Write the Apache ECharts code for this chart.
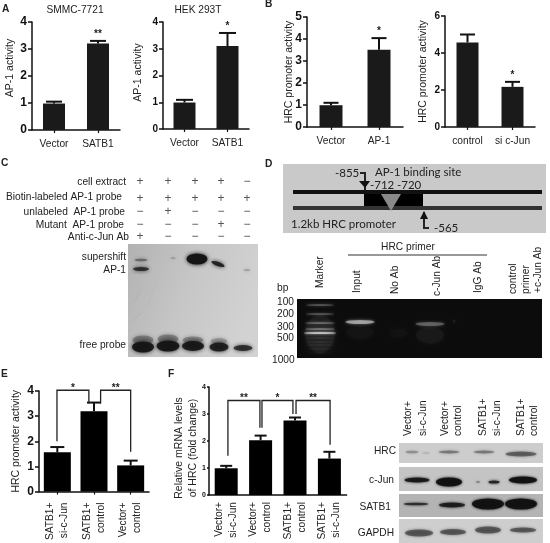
<!DOCTYPE html>
<html>
<head>
<meta charset="utf-8">
<style>html,body{margin:0;padding:0;background:#fff}#main{width:550px;height:543px}#main canvas{filter:blur(0.45px)}</style>
<script src="https://cdn.jsdelivr.net/npm/echarts@6/dist/echarts.min.js"></script>
</head>
<body>
<div id="main"></div>
<script>
// bar panels: [category, mean, top of error bar]
const a1Cats = ['Vector', 'SATB1'];
const a1Vals = [0.98, 3.2];
const a1Errs = [1.05, 3.3];
const a1Stars = ['', '**'];

const a2Cats = ['Vector', 'SATB1'];
const a2Vals = [0.99, 3.1];
const a2Errs = [1.09, 3.59];
const a2Stars = ['', '*'];

const b1Cats = ['Vector', 'AP-1'];
const b1Vals = [0.99, 3.51];
const b1Errs = [1.1, 4.04];
const b1Stars = ['', '*'];

const b2Cats = ['control', 'si c-Jun'];
const b2Vals = [4.57, 2.17];
const b2Errs = [5.0, 2.44];
const b2Stars = ['', '*'];

const eCats = ['SATB1+\nsi-c-Jun', 'SATB1+\ncontrol', 'Vector+\ncontrol'];
const eVals = [1.56, 3.19, 1.04];
const eErrs = [1.77, 3.54, 1.23];
// from x, from y, to x, to y, top y, stars
const eBrackets = [
  [0.49, 2.0, 1.36, 3.5, 4.03, '*'],
  [1.68, 3.5, 2.5, 1.58, 4.03, '**']
];

const fCats = ['Vector+\nsi-c-Jun', 'Vector+\ncontrol', 'SATB1+\ncontrol', 'SATB1+\nsi-c-Jun'];
const fVals = [0.99, 2.03, 2.76, 1.35];
const fErrs = [1.08, 2.2, 2.87, 1.6];
const fBrackets = [
  [0.55, 1.45, 1.48, 2.49, 3.5, '**'],
  [1.54, 2.49, 2.44, 3.0, 3.5, '*'],
  [2.53, 3.0, 3.52, 1.86, 3.5, '**']
];

// gel bands: x, y, length, thickness, strength, rotation (gel scan units)
const emsaBands = [
  [13, 16, 13, 2.5, 0.4, 0], [13, 25, 16, 4, 0.75, 0], [45, 14, 5, 1, 0.35, 0],
  [69, 15, 21, 11, 1, 0], [90, 20, 14, 4, 0.85, -20], [119, 26, 7, 1, 0.4, 0],
  [15, 96, 21, 9, 0.3, 0], [40, 95, 21, 9, 0.3, 0], [65, 96, 21, 7, 0.28, 0], [91, 97, 17, 6, 0.2, 0],
  [15, 103, 22, 11, 0.95, 0], [40, 102, 23, 11, 0.95, 0], [65, 102, 22, 10, 0.9, 0],
  [91, 103, 19, 9, 0.85, 0], [115, 104, 19, 6, 0.75, 0],
  [9, 52, 22, 0.6, 0.06, 60], [24, 50, 30, 0.6, 0.06, 70], [10, 72, 18, 0.6, 0.06, 40]
];
const chipBands = [
  [23, 35, 30, 38, 0.04, 0], [23, 6, 28, 1.5, 0.3, 0], [23, 15, 28, 1.5, 0.3, 0], [23, 24, 30, 1.5, 0.35, 0],
  [23, 30, 30, 1.5, 0.4, 0], [23, 34, 32, 2, 0.7, 0], [23, 39, 30, 0.8, 0.15, 0], [23, 43, 30, 0.8, 0.12, 0],
  [23, 46, 30, 0.8, 0.1, 0], [23, 50, 30, 0.8, 0.08, 0], [23, 54, 30, 0.8, 0.06, 0],
  [63, 33, 28, 14, 0.02, 0], [63, 23, 29, 4, 0.5, 0], [133, 36, 28, 18, 0.03, 0], [133, 25, 29, 4, 0.25, 0],
  [157, 22, 3, 1, 0.15, 0], [102, 34, 18, 9, 0.015, 0]
];
const hrcBands = [[13, 9, 13, 2.5, 0.25, 0], [27, 10, 8, 1.5, 0.12, 0], [50, 9, 21, 3, 0.35, 0], [85, 9, 21, 3, 0.35, 0], [122, 11, 31, 5, 0.45, 0]];
const junBands = [[18, 13, 25, 5, 0.85, 0], [50, 15, 26, 9, 0.95, 0], [79, 15, 4, 1.5, 0.4, 0], [95, 15, 11, 3, 0.8, 0], [124, 13, 28, 7, 0.95, 0]];
const satbBands = [[17, 10, 25, 2.5, 0.7, 0], [53, 11, 26, 5, 0.8, 0], [89, 10, 32, 11, 0.95, 0], [122, 10, 32, 11, 0.95, 0]];
const gapdhBands = [[20, 14, 28, 7, 0.6, 0], [54, 13, 26, 6, 0.6, 0], [89, 11, 26, 7, 0.6, 0], [124, 11, 26, 5, 0.6, 0]];

const emsaSigns = [
  ['+', '+', '+', '+', '−'],
  ['+', '+', '+', '+', '+'],
  ['−', '+', '−', '−', '−'],
  ['−', '−', '−', '+', '−'],
  ['+', '−', '−', '−', '−']
];
const emsaRows = ['cell extract', 'Biotin-labeled AP-1 probe', 'unlabeled  AP-1 probe', 'Mutant  AP-1 probe', 'Anti-c-Jun Ab'];
const signX = [140, 168, 195, 221, 247];
const signY = [182, 199, 212, 225, 237];
const rowRight = [126, 122, 125, 124, 129];

const FONT = '"Liberation Sans", Arial, sans-serif';
const DIAGRAM_FONT = 'Lato, sans-serif';
const TEXT_SIZE = 10.2;

const grids = [], xAxes = [], yAxes = [], series = [];

function addBarPanel(p) {
  const gi = grids.length;
  grids.push({ left: p.left, top: p.top, width: p.width, height: p.height, containLabel: false });
  const xi = xAxes.length;
  xAxes.push({
    gridIndex: gi, type: 'category', data: p.cats,
    axisLine: { lineStyle: { color: '#111', width: p.lineW || 1.5 } },
    axisTick: { show: p.xTick !== false, alignWithLabel: true, length: 3, lineStyle: { color: '#111', width: 1.2 } },
    axisLabel: {
      interval: 0, fontFamily: FONT, fontSize: TEXT_SIZE, color: '#222', margin: p.labelMargin || 7,
      rotate: p.rotate || 0, lineHeight: 14
    }
  });
  const yi = yAxes.length;
  yAxes.push({
    gridIndex: gi, type: 'value', min: 0, max: p.max, interval: p.interval,
    name: p.name, nameLocation: 'middle', nameGap: p.nameGap, nameRotate: 90, nameMoveOverlap: false,
    nameTextStyle: { fontFamily: FONT, fontSize: 10.5, color: '#222', lineHeight: 14, padding: p.namePadding || 0 },
    splitLine: { show: false },
    axisLine: { show: true, onZero: false, lineStyle: { color: '#111', width: p.lineW || 1.5 } },
    axisTick: { show: true, length: p.yTickLen || 4, lineStyle: { color: '#111', width: 1.5 } },
    axisLabel: { fontFamily: FONT, fontSize: p.tickSize, fontWeight: 'bold', color: '#111', margin: p.yMargin || 5 }
  });
  series.push({
    type: 'bar', xAxisIndex: xi, yAxisIndex: yi, data: p.vals, barWidth: p.barWidth,
    itemStyle: { color: p.color || '#1a1a1a' }, silent: true
  });
  series.push({
    type: 'custom', xAxisIndex: xi, yAxisIndex: yi,
    data: p.vals.map((v, i) => [i, v, p.errs[i]]),
    encode: { x: 0, y: [1, 2] }, silent: true, z: 3,
    renderItem: (params, api) => {
      const a = api.coord([api.value(0), api.value(1)]);
      const b = api.coord([api.value(0), api.value(2)]);
      const cap = p.cap / 2;
      const kids = [
        { type: 'line', shape: { x1: a[0], y1: a[1], x2: b[0], y2: b[1] }, style: { stroke: '#111', lineWidth: 2 } },
        { type: 'line', shape: { x1: b[0] - cap, y1: b[1], x2: b[0] + cap, y2: b[1] }, style: { stroke: '#111', lineWidth: 2 } }
      ];
      const star = p.stars && p.stars[params.dataIndex];
      if (star) {
        kids.push({ type: 'text', style: { text: star, x: b[0], y: b[1] - 2, align: 'center', verticalAlign: 'bottom', font: 'bold 10px ' + FONT, fill: '#222' } });
      }
      return { type: 'group', children: kids };
    }
  });
  if (p.brackets) {
    const bx = xAxes.length;
    xAxes.push({ gridIndex: gi, type: 'value', min: 0, max: p.cats.length, show: false });
    series.push({
      type: 'custom', xAxisIndex: bx, yAxisIndex: yi, data: p.brackets, silent: true, z: 4, clip: false,
      encode: { x: [0, 2], y: [1, 3, 4] },
      renderItem: (params, api) => {
        const from = api.coord([api.value(0), api.value(1)]);
        const to = api.coord([api.value(2), api.value(3)]);
        const topY = api.coord([api.value(0), api.value(4)])[1];
        return {
          type: 'group',
          children: [
            { type: 'polyline', shape: { points: [from, [from[0], topY], [to[0], topY], to] }, style: { fill: 'none', stroke: '#222', lineWidth: 1.3 } },
            { type: 'text', style: { text: p.brackets[params.dataIndex][5], x: (from[0] + to[0]) / 2, y: topY + 3, align: 'center', verticalAlign: 'bottom', font: 'bold 10px ' + FONT, fill: '#222' } }
          ]
        };
      }
    });
  }
}

function addGel(g) {
  const gi = grids.length;
  grids.push({ show: true, left: g.left, top: g.top, width: g.width, height: g.height, backgroundColor: g.bg, borderWidth: 0 });
  xAxes.push({ gridIndex: gi, type: 'value', min: 0, max: g.width, show: false });
  yAxes.push({ gridIndex: gi, type: 'value', min: 0, max: g.height, inverse: true, show: false });
  series.push({
    type: 'scatter', xAxisIndex: xAxes.length - 1, yAxisIndex: yAxes.length - 1, silent: true,
    data: g.bands.map((b) => ({
      value: [b[0], b[1]],
      symbolSize: [b[2], b[3]],
      symbolRotate: b[5],
      itemStyle: { color: g.ink, opacity: b[4], shadowBlur: g.blur, shadowColor: g.ink }
    }))
  });
}

addBarPanel({ left: 32, top: 22, width: 88, height: 108, cats: a1Cats, vals: a1Vals, errs: a1Errs, stars: a1Stars, max: 4, interval: 1, name: 'AP-1 activity', nameGap: 15, namePadding: [0, 0, 0, 16], tickSize: 12, barWidth: 22, cap: 16 });
addBarPanel({ left: 163, top: 22, width: 86, height: 107, cats: a2Cats, vals: a2Vals, errs: a2Errs, stars: a2Stars, max: 4, interval: 1, name: 'AP-1 activity', nameGap: 18, namePadding: [0, 0, 0, 6], tickSize: 10, barWidth: 22, cap: 17 });
addBarPanel({ left: 307, top: 17, width: 96, height: 110, cats: b1Cats, vals: b1Vals, errs: b1Errs, stars: b1Stars, max: 5, interval: 1, name: 'HRC promoter activity', nameGap: 11, tickSize: 12, barWidth: 23, cap: 15 });
addBarPanel({ left: 445, top: 16, width: 90, height: 111, cats: b2Cats, vals: b2Vals, errs: b2Errs, stars: b2Stars, max: 6, interval: 2, name: 'HRC promoter activity', nameGap: 15, tickSize: 10, barWidth: 22, cap: 15 });
addBarPanel({ left: 39, top: 391, width: 110, height: 103, cats: eCats, vals: eVals, errs: eErrs, brackets: eBrackets, max: 4, interval: 1, name: 'HRC promoter activity', nameGap: 16, tickSize: 12, barWidth: 27, cap: 14, rotate: 90, labelMargin: 11, color: '#000' });
addBarPanel({ left: 209, top: 387, width: 137.6, height: 108, cats: fCats, vals: fVals, errs: fErrs, brackets: fBrackets, max: 4, interval: 1, name: 'Relative mRNA levels\nof HRC (fold change)', nameGap: 9, namePadding: [0, 14, 0, 0], tickSize: 7, barWidth: 23, cap: 12, rotate: 90, labelMargin: 7, xTick: false, yTickLen: 2, yMargin: 3, color: '#000' });

addGel({
  left: 128, top: 244, width: 130, height: 113, ink: '#151515', blur: 4, bands: emsaBands,
  bg: new echarts.graphic.LinearGradient(0, 0, 1, 0.4, [{ offset: 0, color: '#b2b2b2' }, { offset: 0.5, color: '#c6c6c6' }, { offset: 1, color: '#d2d2d2' }])
});
addGel({ left: 297, top: 299, width: 245, height: 59, ink: '#e4e4e4', blur: 3, bands: chipBands, bg: '#0c0c0c' });
addGel({ left: 399, top: 443, width: 144, height: 20, ink: '#1c1c1c', blur: 3, bands: hrcBands, bg: '#cdcdcd' });
addGel({ left: 399, top: 467, width: 144, height: 24, ink: '#111', blur: 3, bands: junBands, bg: '#c4c4c4' });
addGel({ left: 399, top: 494, width: 144, height: 23, ink: '#111', blur: 3, bands: satbBands, bg: '#b4b4b4' });
addGel({ left: 399, top: 519, width: 144, height: 24, ink: '#333', blur: 3, bands: gapdhBands, bg: '#cecece' });

function txt(text, x, y, opt) {
  opt = opt || {};
  return {
    type: 'text', x: x, y: y, rotation: opt.up ? Math.PI / 2 : 0, silent: true,
    style: {
      text: text, fill: opt.fill || '#222', align: opt.align || 'left', verticalAlign: 'middle',
      font: (opt.weight ? opt.weight + ' ' : '') + (opt.size || TEXT_SIZE) + 'px ' + (opt.family || FONT)
    }
  };
}

const graphics = [
  txt('A', 2, 9, { weight: 'bold' }), txt('B', 265, 4, { weight: 'bold' }), txt('C', 1, 163, { weight: 'bold' }),
  txt('D', 265, 164, { weight: 'bold' }), txt('E', 1, 374, { weight: 'bold' }), txt('F', 168, 374, { weight: 'bold' }),
  txt('SMMC-7721', 75, 10, { align: 'center' }), txt('HEK 293T', 198, 10, { align: 'center' }),
  txt('supershift', 126, 257, { align: 'right' }), txt('AP-1', 126, 270, { align: 'right' }), txt('free probe', 126, 345, { align: 'right' })
];

emsaRows.forEach((row, i) => {
  graphics.push(txt(row, rowRight[i], signY[i] - (i === 1 ? 2 : 0), { align: 'right' }));
  emsaSigns[i].forEach((s, j) => graphics.push(txt(s, signX[j], signY[i], { align: 'center', size: 12, fill: '#555' })));
});

// promoter diagram
graphics.push(
  { type: 'rect', shape: { x: 283, y: 164, width: 263, height: 69 }, style: { fill: '#c9c9c9' }, silent: true },
  { type: 'rect', shape: { x: 293, y: 190, width: 249, height: 4 }, style: { fill: '#111' }, silent: true },
  { type: 'rect', shape: { x: 293, y: 206, width: 249, height: 4 }, style: { fill: '#333' }, silent: true },
  { type: 'rect', shape: { x: 364, y: 194, width: 59, height: 12 }, style: { fill: '#000' }, silent: true },
  { type: 'polygon', shape: { points: [[381, 194], [401, 194], [391, 211]] }, style: { fill: '#8a8a8a' }, silent: true },
  { type: 'polyline', shape: { points: [[360, 173], [365, 173], [365, 190]] }, style: { fill: 'none', stroke: '#222', lineWidth: 2 }, silent: true },
  { type: 'polygon', shape: { points: [[359, 181], [370, 181], [365, 188]] }, style: { fill: '#111' }, silent: true },
  { type: 'polyline', shape: { points: [[424, 212], [424, 228], [429, 228]] }, style: { fill: 'none', stroke: '#222', lineWidth: 2 }, silent: true },
  { type: 'polygon', shape: { points: [[420, 219], [428, 219], [424, 211]] }, style: { fill: '#111' }, silent: true },
  { type: 'line', shape: { x1: 348, y1: 255, x2: 487, y2: 255 }, style: { stroke: '#333', lineWidth: 1 }, silent: true }
);
const dia = { family: DIAGRAM_FONT, size: 11.5, fill: '#222' };
graphics.push(
  txt('-855', 335, 173, dia), txt('AP-1 binding site', 375, 172, dia), txt('-712', 370, 185, dia), txt('-720', 397, 185, dia),
  txt('1.2kb HRC promoter', 291, 224, dia), txt('-565', 434, 228, dia),
  txt('HRC primer', 408, 247, { align: 'center' }), txt('bp', 277, 288),
  txt('100', 277, 302), txt('200', 277, 314), txt('300', 277, 327), txt('500', 277, 338), txt('1000', 272, 360)
);

// rotated lane labels, text reads upward
function upLabel(text, x, bottom) {
  const t = txt(text, x, bottom, {});
  t.rotation = Math.PI / 2;
  return t;
}
[['Marker', 320, 288], ['Input', 357, 293], ['No Ab', 395, 294], ['c-Jun Ab', 437, 296], ['IgG Ab', 478, 293],
 ['control', 513, 294], ['primer', 526, 294], ['+c-Jun Ab', 538, 293]].forEach((l) => graphics.push(upLabel(l[0], l[1], l[2])));
[['Vector+', 408], ['si-c-Jun', 423], ['Vector+', 445], ['control', 458], ['SATB1+', 483], ['si-c-Jun', 497], ['SATB1+', 521], ['control', 534]]
  .forEach((l) => graphics.push(upLabel(l[0], l[1], 436)));
graphics.push(
  txt('HRC', 396, 451, { align: 'right' }), txt('c-Jun', 394, 480, { align: 'right' }),
  txt('SATB1', 391, 507, { align: 'right' }), txt('GAPDH', 394, 533, { align: 'right' })
);

const chart = echarts.init(document.getElementById('main'));
chart.setOption({
  animation: false,
  backgroundColor: '#fff',
  grid: grids,
  xAxis: xAxes,
  yAxis: yAxes,
  series: series,
  graphic: graphics
});
</script>
</body>
</html>
